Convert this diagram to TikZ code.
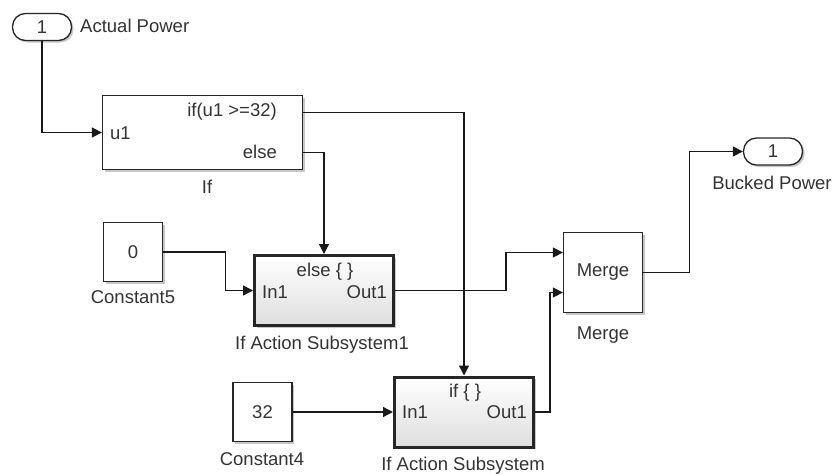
\documentclass[tikz,border=0pt]{standalone}
\usepackage{fontspec}
\setmainfont{Liberation Sans}
\usepackage{xcolor}
\usepackage{tikz}
\usetikzlibrary{arrows.meta,calc,shadows}
\definecolor{slgray}{RGB}{51,51,51}

\begin{document}
\begin{tikzpicture}[x=1pt,y=-1pt,
  font=\fontsize{18.5}{20}\selectfont,
  blk/.style={rectangle,draw=black!85,line width=1.3pt,fill=white,inner sep=0pt,text=slgray,
    drop shadow={shadow xshift=2pt,shadow yshift=-2pt,fill=black,opacity=0.22}},
  sub/.style={blk,line width=3pt,top color=white,bottom color=black!13,
    minimum width=139pt,minimum height=70pt},
  cst/.style={blk,minimum width=59pt,minimum height=59pt},
  io/.style={blk,rounded corners=13pt,minimum width=59pt,minimum height=27pt},
  txt/.style={text=slgray,inner sep=0pt},
  sig/.style={draw=black!90,line width=1.3pt,-{Triangle[length=10pt,width=10pt]}}]
  \useasboundingbox (0,0) rectangle (838,474);
  % ports
  \node[io] (inAP) at (42,27) {1};
  \node[txt,anchor=west] (apLbl) at (80,26) {Actual Power};
  \node[io] (outBP) at (773,151.5) {1};
  \node[txt] (bpLbl) at (772,183) {Bucked Power};
  % if block
  \node[blk,minimum width=200pt,minimum height=74pt] (ifblk) at (202.5,132.5) {};
  \node[txt,anchor=west] (ifU1) at (110,133) {u1};
  \node[txt,anchor=east] (ifCond) at (277,112) {if(u1 >=32)};
  \node[txt,anchor=east] (ifElse) at (277,152) {else};
  \node[txt] (ifLbl) at (207,187) {If};
  % constants
  \node[cst] (const5) at (133,252) {0};
  \node[txt] (c5Lbl) at (133,297) {Constant5};
  \node[cst] (const4) at (262.5,412) {32};
  \node[txt] (c4Lbl) at (262,459) {Constant4};
  % action subsystems
  \node[sub] (ias1) at (324,290.5) {};
  \node[txt] (ias1Hd) at (325,272) {else \{ \}};
  \node[txt,anchor=west] (ias1In) at (262,292) {In1};
  \node[txt,anchor=east] (ias1Out) at (387,292) {Out1};
  \node[txt] (ias1Lbl) at (322,345) {If Action Subsystem1};
  \node[sub] (ias) at (464,412) {};
  \node[txt] (iasHd) at (465,393) {if \{ \}};
  \node[txt,anchor=west] (iasIn) at (402,412) {In1};
  \node[txt,anchor=east] (iasOut) at (527,412) {Out1};
  \node[txt] (iasLbl) at (463,466) {If Action Subsystem};
  % merge
  \node[blk,minimum width=79pt,minimum height=80pt] (merge) at (603,272.5) {Merge};
  \node[txt] (mLbl) at (603,335) {Merge};
  % port points
  \coordinate (ifOut1) at ($(ifblk.east)+(0,-20)$);
  \coordinate (ifOut2) at ($(ifblk.east)+(0,20)$);
  \coordinate (mIn1) at ($(merge.west)+(0,-20)$);
  \coordinate (mIn2) at ($(merge.west)+(0,20)$);
  % signals
  \draw[sig] (inAP.south) |- (ifblk.west);
  \draw[sig] (ifOut1) -| (ias.north);
  \draw[sig] (ifOut2) -| (ias1.north);
  \draw[sig] (const5.east) -- ++(62,0) |- (ias1.west);
  \draw[sig] (const4.east) -- (ias.west);
  \draw[sig] (ias1.east) -- ++(111,0) |- (mIn1);
  \draw[sig] (ias.east) -- ++(15,0) |- (mIn2);
  \draw[sig] (merge.east) -- ++(46,0) |- (outBP.west);
\end{tikzpicture}
\end{document}
